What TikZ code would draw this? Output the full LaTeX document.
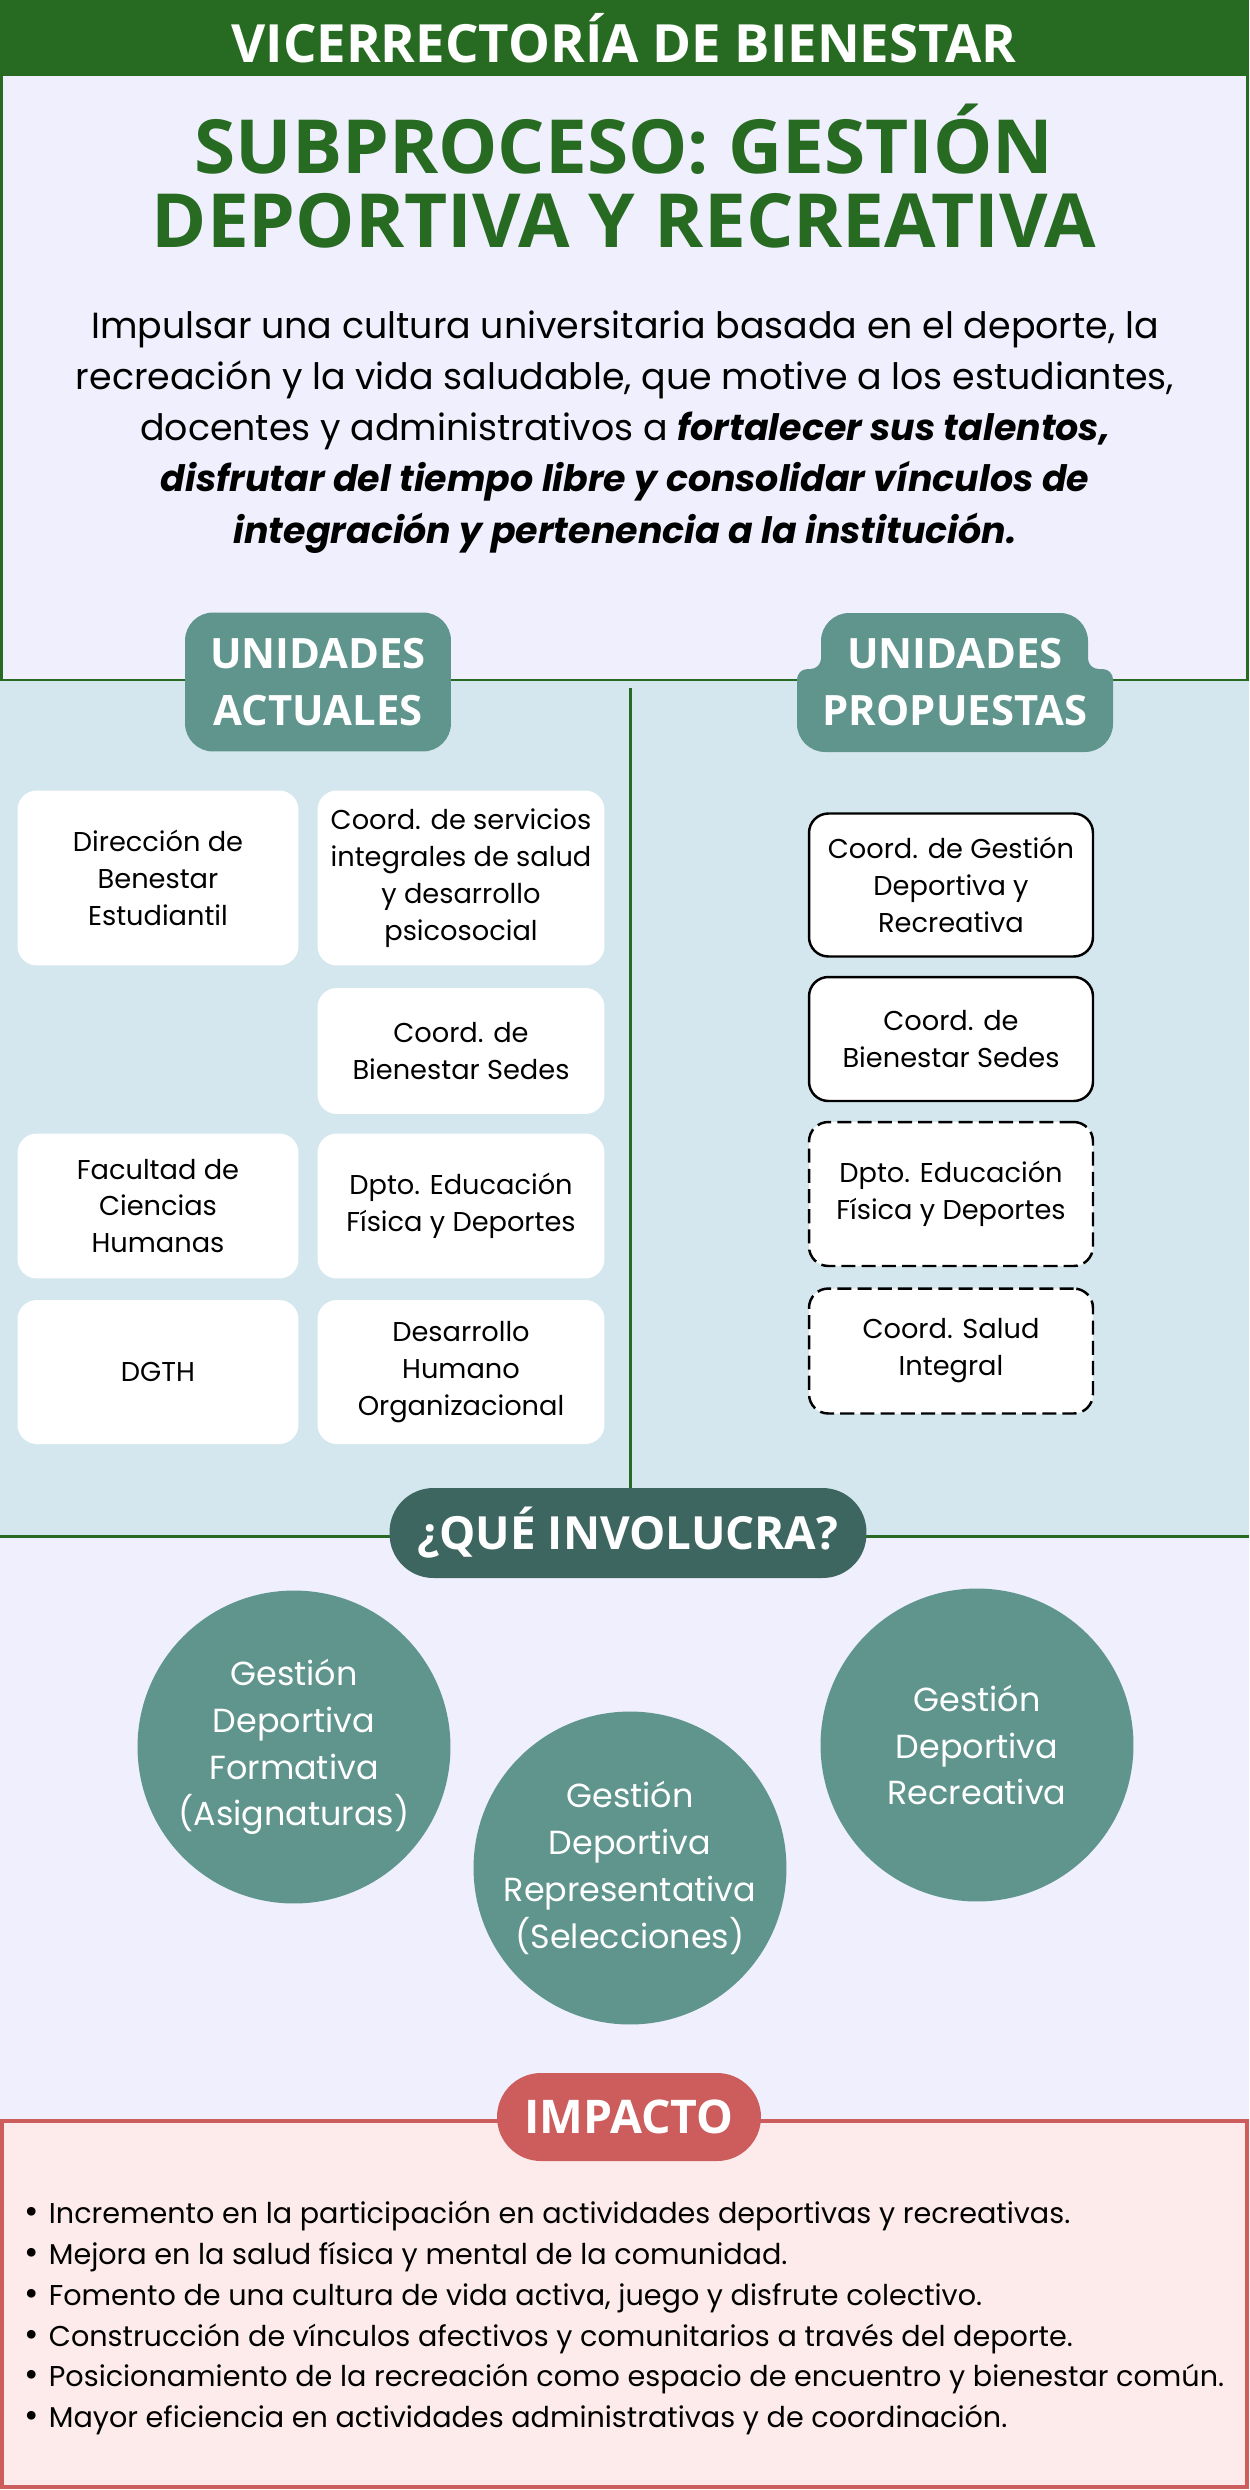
\documentclass[tikz,border=0pt]{standalone}
\usepackage{fontspec}
\setmainfont{Poppins}
\newfontfamily\headfont{Open Sans}
\usepackage{xcolor}
\definecolor{verdeosc}{HTML}{276B22}
\definecolor{lavanda}{HTML}{EFEFFD}
\definecolor{celeste}{HTML}{D4E7EE}
\definecolor{verdeagua}{HTML}{5F958D}
\definecolor{aguaosc}{HTML}{3E6661}
\definecolor{rojizo}{HTML}{CD5C5C}
\definecolor{rosado}{HTML}{FDEBEB}

\begin{document}
\begin{tikzpicture}[x=0.02cm, y=-0.02cm, inner sep=0, outer sep=0,
    borde/.style={verdeosc, line width=1.7pt},
    caja/.style={fill=white, rounded corners=11pt, align=center,
        font=\fontsize{15.5}{21}\selectfont},
    propuesta/.style={caja, draw=black, line width=1.4pt},
    insignia/.style={fill=verdeagua, text=white, align=center,
        font=\headfont\bfseries\fontsize{23.8}{32.5}\selectfont},
    esfera/.style={circle, fill=verdeagua, text=white, align=center,
        minimum size=6.26cm, font=\fontsize{19}{26.6}\selectfont}]
    \useasboundingbox (0,0) rectangle (1249,2490);
    % fondos
    \fill[verdeosc] (0,0) rectangle (1249,76);
    \fill[lavanda] (0,76) rectangle (1249,680);
    \fill[celeste] (0,680) rectangle (1249,1536);
    \fill[lavanda] (0,1536) rectangle (1249,2121);
    \draw[borde] (1.5,76) -- (1.5,680) -- (1247.5,680) -- (1247.5,76);
    \draw[borde] (0,1536) -- (1249,1536);
    \draw[borde] (630,688) -- (630,1490);
    \filldraw[fill=rosado, draw=rojizo, line width=2.3pt] (2,2121) rectangle (1247,2487);
    % encabezado
    \node[text=white, font=\headfont\bfseries\fontsize{30}{34}\selectfont] (vicerrectoria) at (624,38) {VICERRECTORÍA DE BIENESTAR};
    \node[text=verdeosc, align=center, font=\headfont\bfseries\fontsize{42.5}{42.5}\selectfont] (titulo) at (624,176) {SUBPROCESO: GESTIÓN\\DEPORTIVA Y RECREATIVA};
    \node[align=center, font=\fontsize{20.7}{29.1}\selectfont] (objetivo) at (625,432) {Impulsar una cultura universitaria basada en el deporte, la\\
        recreación y la vida saludable, que motive a los estudiantes,\\
        docentes y administrativos a \textbf{\textit{fortalecer sus talentos,}}\\
        \textbf{\textit{disfrutar del tiempo libre y consolidar vínculos de}}\\
        \textbf{\textit{integración y pertenencia a la institución.}}};
    % insignias
    \node[insignia, rounded corners=16pt, minimum width=5.32cm, minimum height=2.78cm] (actuales) at (318,682) {UNIDADES\\ACTUALES};
    \fill[verdeagua] (955,613) [rounded corners=16pt] -- (1088,613) [rounded corners=6pt] -- (1088,669)
        -- (1113,669) [rounded corners=16pt] -- (1113,752) -- (797,752) [rounded corners=6pt] -- (797,669)
        -- (821,669) [rounded corners=16pt] -- (821,613) -- cycle;
    \node[insignia, fill=none] (propuestas) at (955,682) {UNIDADES\\PROPUESTAS};
    % unidades actuales
    \node[caja, minimum width=5.62cm, minimum height=3.5cm] (direccion) at (158,878) {Dirección de\\Benestar\\Estudiantil};
    \node[caja, minimum width=5.74cm, minimum height=3.5cm] (servicios) at (461,878) {Coord. de servicios\\integrales de salud\\y desarrollo\\psicosocial};
    \node[caja, minimum width=5.74cm, minimum height=2.52cm] (sedes) at (461,1051) {Coord. de\\Bienestar Sedes};
    \node[caja, minimum width=5.62cm, minimum height=2.9cm] (facultad) at (158,1206) {Facultad de\\Ciencias\\Humanas};
    \node[caja, minimum width=5.74cm, minimum height=2.9cm] (dpto) at (461,1206) {Dpto. Educación\\Física y Deportes};
    \node[caja, minimum width=5.62cm, minimum height=2.88cm] (dgth) at (158,1372) {DGTH};
    \node[caja, minimum width=5.74cm, minimum height=2.88cm] (desarrollo) at (461,1372) {Desarrollo\\Humano\\Organizacional};
    % unidades propuestas
    \node[propuesta, minimum width=5.68cm, minimum height=2.86cm] (gestion) at (951,885) {Coord. de Gestión\\Deportiva y\\Recreativa};
    \node[propuesta, minimum width=5.68cm, minimum height=2.48cm] (psedes) at (951,1039) {Coord. de\\Bienestar Sedes};
    \node[propuesta, dash pattern=on 8pt off 3.5pt, minimum width=5.68cm, minimum height=2.88cm] (pdpto) at (951,1194) {Dpto. Educación\\Física y Deportes};
    \node[propuesta, dash pattern=on 8pt off 3.5pt, minimum width=5.68cm, minimum height=2.5cm] (salud) at (951,1351) {Coord. Salud\\Integral};
    % que involucra
    \node[insignia, fill=aguaosc, rounded corners=25pt, minimum width=9.54cm, minimum height=1.8cm, font=\headfont\bfseries\fontsize{26}{30}\selectfont] (involucra) at (628,1533) {¿QUÉ INVOLUCRA?};
    \node[esfera] (formativa) at (294,1747) {Gestión\\Deportiva\\Formativa\\(Asignaturas)};
    \node[esfera] (representativa) at (630,1868) {Gestión\\Deportiva\\Representativa\\(Selecciones)};
    \node[esfera] (recreativa) at (977,1745) {Gestión\\Deportiva\\Recreativa};
    % impacto
    \node[insignia, fill=rojizo, rounded corners=25pt, minimum width=5.28cm, minimum height=1.76cm, font=\headfont\bfseries\fontsize{26.4}{30}\selectfont] (impacto) at (629,2117) {IMPACTO};
    \node[anchor=west, align=left, font=\fontsize{16.3}{23.2}\selectfont] (lista) at (25,2318) {%
        \makebox[13.6pt][l]{\fontsize{20}{20}\selectfont\textbullet}Incremento en la participación en actividades deportivas y recreativas.\\
        \makebox[13.6pt][l]{\fontsize{20}{20}\selectfont\textbullet}Mejora en la salud física y mental de la comunidad.\\
        \makebox[13.6pt][l]{\fontsize{20}{20}\selectfont\textbullet}Fomento de una cultura de vida activa, juego y disfrute colectivo.\\
        \makebox[13.6pt][l]{\fontsize{20}{20}\selectfont\textbullet}Construcción de vínculos afectivos y comunitarios a través del deporte.\\
        \makebox[13.6pt][l]{\fontsize{20}{20}\selectfont\textbullet}Posicionamiento de la recreación como espacio de encuentro y bienestar común.\\
        \makebox[13.6pt][l]{\fontsize{20}{20}\selectfont\textbullet}Mayor eficiencia en actividades administrativas y de coordinación.};
\end{tikzpicture}
\end{document}
